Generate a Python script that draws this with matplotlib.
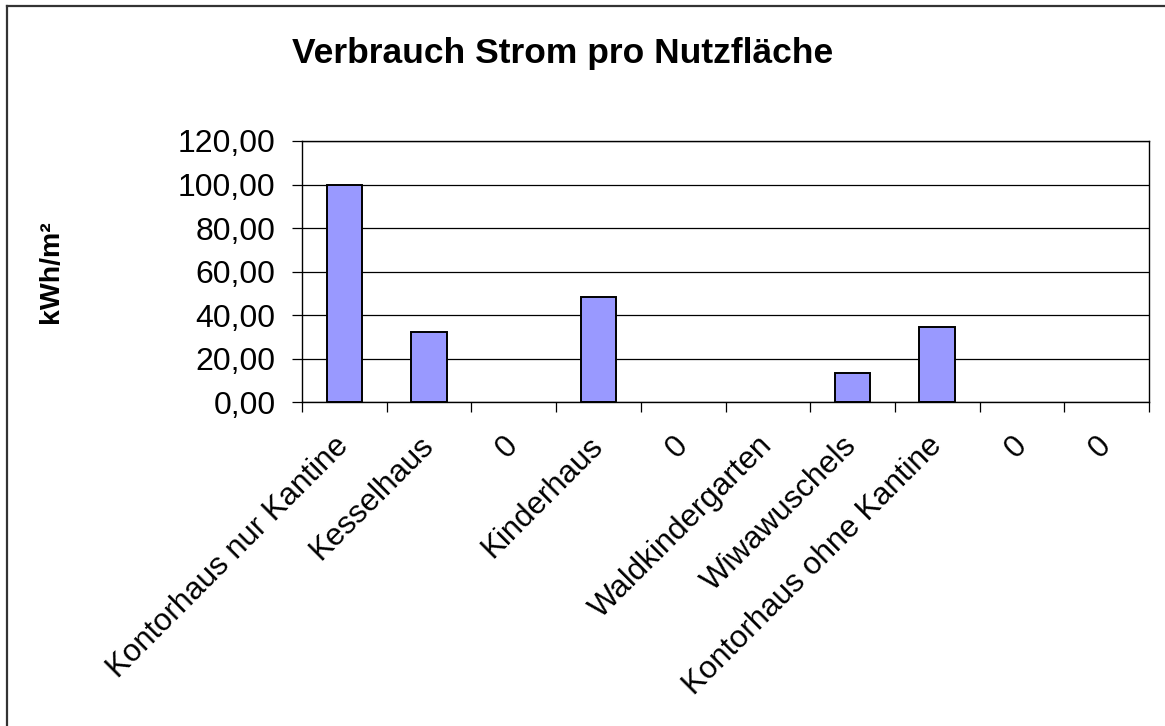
import matplotlib
matplotlib.use("Agg")
import matplotlib.pyplot as plt
import matplotlib.transforms as mtransforms
from matplotlib.ticker import FuncFormatter, FixedLocator
from matplotlib.lines import Line2D

categories = ["Kontorhaus nur Kantine", "Kesselhaus", "0", "Kinderhaus", "0",
              "Waldkindergarten", "Wiwawuschels", "Kontorhaus ohne Kantine", "0", "0"]
values = [100.0, 32.2, 0.0, 48.5, 0.0, 0.0, 13.6, 34.8, 0.0, 0.0]
y_ticks = [0, 20, 40, 60, 80, 100, 120]

plt.rcParams["font.family"] = ["Liberation Sans", "DejaVu Sans"]

W, H = 1165, 726
fig = plt.figure(figsize=(W / 100, H / 100), dpi=100)
ax = fig.add_axes([302 / W, 1 - 402.3 / H, (1149 - 302) / W, (402.3 - 141) / H])

x = list(range(1, len(categories) + 1))
# Excel draws nothing for empty bars, so no outline on zero values
edge_w = [1.4 if v else 0 for v in values]
ax.bar(x, values, width=0.42, color="#9999FF", edgecolor="black", linewidth=edge_w, zorder=3)

ax.set_xlim(0.5, len(categories) + 0.5)
ax.set_ylim(0, 120)
ax.set_yticks(y_ticks)
ax.yaxis.set_major_formatter(FuncFormatter(lambda v, p: f"{v:.2f}".replace(".", ",")))
ax.yaxis.grid(True, color="black", linewidth=0.9, zorder=1)
ax.set_axisbelow(True)

# category labels at bar centres, tick marks at category boundaries
ax.set_xticks(x)
ax.set_xticklabels(categories, rotation=45, ha="right", va="center",
                   rotation_mode="anchor", fontsize=22.5)
shift = mtransforms.ScaledTranslation(-6 / 100, -2 / 100, fig.dpi_scale_trans)
for lab in ax.get_xticklabels():
    lab.set_transform(lab.get_transform() + shift)
ax.xaxis.set_minor_locator(FixedLocator([i + 0.5 for i in range(len(categories) + 1)]))
ax.tick_params(axis="x", which="major", length=0, pad=28)
ax.tick_params(axis="x", which="minor", length=7, width=0.9, direction="out")
ax.tick_params(axis="y", length=7, width=0.9, direction="out", pad=12, labelsize=23)

for s in ax.spines.values():
    s.set_color("black")
    s.set_linewidth(1.0)

fig.text(563 / W, 1 - 53 / H, "Verbrauch Strom pro Nutzfläche", fontsize=25.5,
         fontweight="bold", ha="center", va="center")
fig.text(51 / W, 1 - 272 / H, "kWh/m²", fontsize=20.5, fontweight="bold",
         rotation=90, ha="center", va="center")

# chart border (top and left visible)
fig.add_artist(Line2D([7 / W, 1], [1 - 5.5 / H, 1 - 5.5 / H], color="#333333",
                      linewidth=1.6, transform=fig.transFigure))
fig.add_artist(Line2D([7 / W, 7 / W], [0, 1 - 5.5 / H], color="#333333",
                      linewidth=1.6, transform=fig.transFigure))

fig.savefig("out.png", dpi=100)
